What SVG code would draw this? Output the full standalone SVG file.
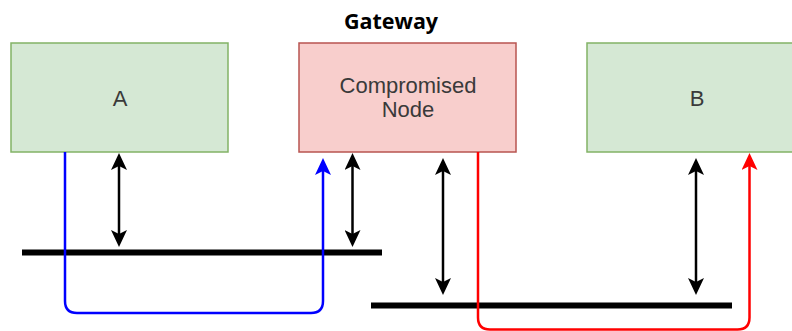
<svg xmlns="http://www.w3.org/2000/svg" width="792" height="331" viewBox="0 0 792 331">
<style>
.green{fill:#d5e8d4;stroke:#82b366;stroke-width:1.5}
.red{fill:#f8cecc;stroke:#b85450;stroke-width:1.5}
.lbl{font-family:"Liberation Sans",Arial,sans-serif;font-size:22px;fill:#3a3a3a;text-anchor:middle}
.title{font-family:"Open Sans","DejaVu Sans",sans-serif;font-size:21.5px;font-weight:bold;fill:#000000;text-anchor:middle}
.bus{stroke:#000000;stroke-width:6;fill:none}
.dbl{stroke:#000000;stroke-width:2.5;fill:none;marker-start:url(#ak);marker-end:url(#ak)}
.blue{stroke:#0000ff;stroke-width:2.5;fill:none;marker-end:url(#ab)}
.redl{stroke:#ff0000;stroke-width:2.5;fill:none;marker-end:url(#ar)}
</style>
<defs>
<marker id="ak" markerUnits="userSpaceOnUse" markerWidth="17" markerHeight="16" refX="13" refY="8" orient="auto-start-reverse" viewBox="0 0 17 16"><path d="M0,0 L17,8 L0,16 L4,8 Z" fill="#000000"/></marker>
<marker id="ab" markerUnits="userSpaceOnUse" markerWidth="17" markerHeight="16" refX="13" refY="8" orient="auto" viewBox="0 0 17 16"><path d="M0,0 L17,8 L0,16 L4,8 Z" fill="#0000ff"/></marker>
<marker id="ar" markerUnits="userSpaceOnUse" markerWidth="17" markerHeight="16" refX="13" refY="8" orient="auto" viewBox="0 0 17 16"><path d="M0,0 L17,8 L0,16 L4,8 Z" fill="#ff0000"/></marker>
</defs>
<text class="title" x="391" y="29">Gateway</text>
<g id="nodeA"><rect class="green" x="11" y="43" width="217" height="109"/><text class="lbl" x="120" y="106">A</text></g>
<g id="nodeC"><rect class="red" x="299" y="43" width="217" height="109"/><text class="lbl" x="408" y="93">Compromised</text><text class="lbl" x="408" y="117">Node</text></g>
<g id="nodeB"><rect class="green" x="587" y="43" width="220" height="109"/><text class="lbl" x="697" y="106">B</text></g>
<g id="bus1"><line class="bus" x1="22" y1="252.5" x2="382" y2="252.5"/></g>
<g id="bus2"><line class="bus" x1="371" y1="305.5" x2="732" y2="305.5"/></g>
<g id="connectors">
<line class="dbl" x1="119" y1="157" x2="119" y2="243"/>
<line class="dbl" x1="352.5" y1="157" x2="352.5" y2="243"/>
<line class="dbl" x1="443" y1="162" x2="443" y2="291"/>
<line class="dbl" x1="696" y1="162" x2="696" y2="291"/>
<path class="blue" d="M65,152 V301 Q65,313 77,313 H311 Q323,313 323,301 V162"/>
<path class="redl" d="M478,152 V317.5 Q478,329.5 490,329.5 H737.5 Q749.5,329.5 749.5,317.5 V157"/>
</g>
</svg>
